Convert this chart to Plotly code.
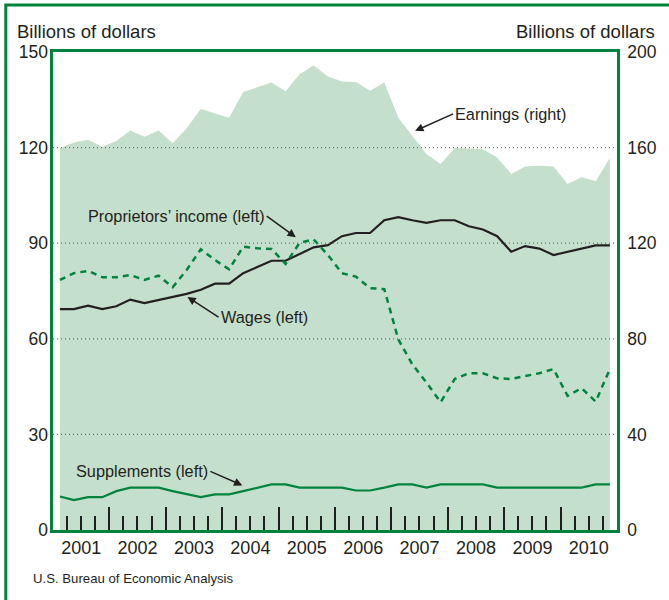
import pandas as pd
import plotly.graph_objects as go

# ---- data (billions of dollars, quarterly 2001Q1-2010Q4) ----
first_quarter = "2001Q1"
last_quarter = "2010Q4"
earnings = [159.8, 162.1, 163.3, 160.4, 162.8, 167.2, 164.5, 167.2, 161.8, 168.1,
            176.2, 174.5, 172.5, 183.3, 185.3, 187.2, 183.6, 190.7, 194.4, 189.8,
            187.7, 187.4, 183.8, 187.2, 172.5, 164.9, 157.3, 153.1, 159.8, 159.6,
            159.3, 155.9, 149.0, 152.1, 152.4, 152.1, 144.8, 147.6, 145.9, 155.6]
wages = [69.3, 69.3, 70.4, 69.3, 70.2, 72.3, 71.2, 72.1, 73.1, 74.1,
         75.4, 77.3, 77.3, 80.6, 82.5, 84.5, 84.5, 86.7, 88.7, 89.4,
         92.2, 93.2, 93.2, 97.2, 98.2, 97.2, 96.4, 97.2, 97.2, 95.3,
         94.3, 92.2, 87.3, 89.1, 88.3, 86.3, 87.3, 88.4, 89.3, 89.3]
proprietors = [78.5, 80.6, 81.3, 79.3, 79.3, 80.0, 78.5, 79.8, 76.2, 81.6,
               88.1, 84.7, 81.8, 88.9, 88.4, 88.2, 83.5, 90.1, 91.2, 86.3,
               80.6, 79.5, 75.9, 75.6, 59.8, 52.0, 46.3, 40.1, 47.4, 49.2,
               49.2, 47.6, 47.4, 48.4, 49.2, 50.5, 42.1, 44.5, 40.3, 50.5]
supplements = [10.5, 9.4, 10.3, 10.3, 12.2, 13.3, 13.3, 13.3, 12.2, 11.2,
               10.3, 11.2, 11.2, 12.2, 13.3, 14.3, 14.3, 13.3, 13.3, 13.3,
               13.3, 12.4, 12.4, 13.3, 14.3, 14.3, 13.3, 14.3, 14.3, 14.3,
               14.3, 13.3, 13.3, 13.3, 13.3, 13.3, 13.3, 13.3, 14.3, 14.3]
left_ticks = [0, 30, 60, 90, 120, 150]
right_ticks = [0, 40, 80, 120, 160, 200]
left_grid = [30, 60, 90, 120]
x_range = ["2001-01-01", "2011-01-01"]

periods = pd.period_range(first_quarter, last_quarter, freq="Q")
x = periods.start_time + (periods.end_time - periods.start_time) / 2
# interior tick positions: year starts (tall) and quarter starts (short)
year_starts = [p.start_time for p in periods if p.quarter == 1][1:]
quarter_starts = [p.start_time for p in periods][1:]

GREEN = "#00843d"
FILL = "#c4dfcb"
INK = "#231f20"
FONT = "Liberation Sans, Arial, Helvetica, sans-serif"

fig = go.Figure()
fig.add_trace(go.Scatter(x=x, y=earnings, mode="lines", fill="tozeroy",
                         fillcolor=FILL, line=dict(width=0, color=FILL),
                         xaxis="x", yaxis="y", hoverinfo="skip"))
fig.add_trace(go.Scatter(x=x, y=wages, mode="lines",
                         line=dict(color=INK, width=2.2), xaxis="x", yaxis="y2"))
fig.add_trace(go.Scatter(x=x, y=proprietors, mode="lines",
                         line=dict(color=GREEN, width=2.5, dash="6px,5px"),
                         xaxis="x", yaxis="y2"))
fig.add_trace(go.Scatter(x=x, y=supplements, mode="lines",
                         line=dict(color=GREEN, width=2.2), xaxis="x2", yaxis="y2"))

for v in left_grid:
    fig.add_shape(type="line", xref="paper", x0=0, x1=1, yref="y2", y0=v, y1=v,
                  line=dict(color="#6f6f6f", width=1.2, dash="1px,3px"), layer="above")

# outer frame
fig.add_shape(type="rect", xref="paper", yref="paper", x0=-0.0837, x1=1.12,
              y0=-0.2, y1=1.0984, line=dict(color=GREEN, width=3), layer="above")

ANN_FONT = dict(family=FONT, size=16.3, color=INK)

def arrow(text, xt, yt, yref, ax, ay, anchor):
    fig.add_annotation(x=xt, y=yt, xref="x", yref=yref, text=text, showarrow=True,
                       ax=ax, ay=ay, xanchor=anchor, yanchor="middle",
                       arrowhead=2, arrowsize=1.1, arrowwidth=1.5, arrowcolor=INK,
                       font=ANN_FONT)

arrow("Earnings (right)", "2007-06-04", 167.0, "y", 38, -17, "left")
arrow("Proprietors\u2019 income (left)", "2005-04-22", 91.9, "y2", -29, -21, "right")
arrow("Wages (left)", "2003-05-22", 73.1, "y2", 31, 20, "left")
arrow("Supplements (left)", "2004-05-11", 14.0, "y2", -32, -14, "right")

fig.add_annotation(xref="paper", yref="paper", x=-0.067, y=1.042, text="Billions of dollars",
                   showarrow=False, xanchor="left", yanchor="middle",
                   font=dict(family=FONT, size=18.5, color=INK))
fig.add_annotation(xref="paper", yref="paper", x=1.071, y=1.042, text="Billions of dollars",
                   showarrow=False, xanchor="right", yanchor="middle",
                   font=dict(family=FONT, size=18.5, color=INK))
fig.add_annotation(xref="paper", yref="paper", x=-0.039, y=-0.1005,
                   text="U.S. Bureau of Economic Analysis",
                   showarrow=False, xanchor="left", yanchor="middle",
                   font=dict(family=FONT, size=13.2, color=INK))

fig.update_layout(
    width=669, height=600,
    margin=dict(l=52.5, r=49, t=52, b=70),
    paper_bgcolor="white", plot_bgcolor="white",
    showlegend=False,
    font=dict(family=FONT, color=INK),
    xaxis=dict(type="date", range=x_range, tick0="2001-01-01", dtick="M12",
               ticks="", tickformat="%Y", ticklabelmode="period",
               tickfont=dict(size=18, color=INK),
               showgrid=False, zeroline=False,
               showline=True, linecolor=GREEN, linewidth=2.6, mirror=True),
    xaxis2=dict(type="date", range=x_range, matches="x", overlaying="x", anchor="y2",
                side="bottom",
                tickmode="array", tickvals=year_starts, showticklabels=False,
                ticks="inside", ticklen=23, tickwidth=1.5, tickcolor=INK,
                minor=dict(tickmode="array", tickvals=quarter_starts, ticks="inside",
                           ticklen=14, tickwidth=1.5, tickcolor=INK, showgrid=False),
                showgrid=False, zeroline=False, showline=False),
    yaxis=dict(side="right", range=[0, 200], tickvals=right_ticks,
               tickfont=dict(size=17.5, color=INK), ticks="", ticklabelstandoff=4,
               showgrid=False, zeroline=False,
               showline=True, linecolor=GREEN, linewidth=2.6, mirror=True),
    yaxis2=dict(side="left", overlaying="y", range=[0, 150], tickvals=left_ticks,
                tickfont=dict(size=17.5, color=INK), ticks="", ticklabelstandoff=4,
                showgrid=False, zeroline=False, showline=False),
)

fig.write_html("out.html", config={"displayModeBar": False},
               post_script="document.body.style.margin='0';")
